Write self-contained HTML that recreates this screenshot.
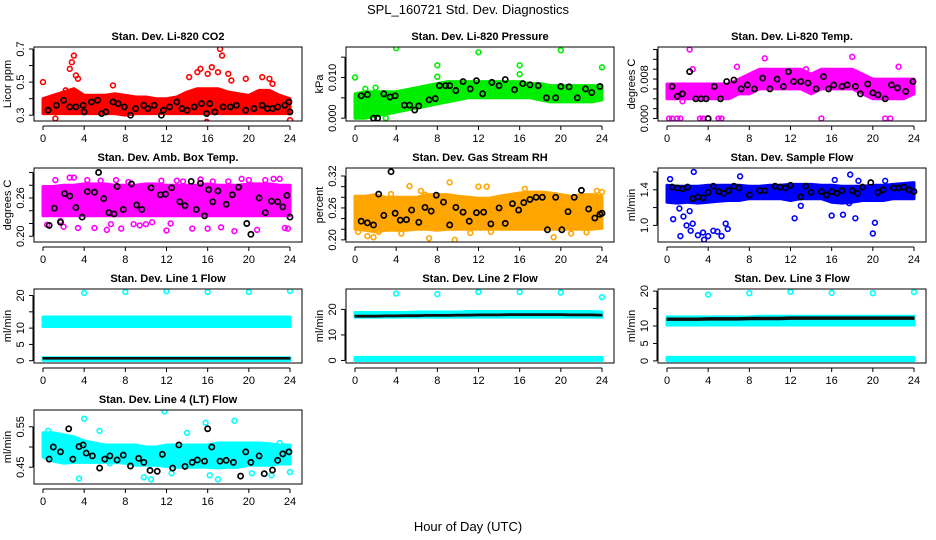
<!DOCTYPE html>
<html><head><meta charset="utf-8"><style>
html,body{margin:0;padding:0;background:#fff;}
svg{display:block;font-family:"Liberation Sans",Arial,sans-serif;}
</style></head><body>
<svg id="chart" width="936" height="540" viewBox="0 0 936 540">
<text x="468" y="14" text-anchor="middle" font-size="13">SPL_160721  Std. Dev. Diagnostics</text>
<text x="468" y="531" text-anchor="middle" font-size="13">Hour of Day (UTC)</text>
</svg>
<script>
const hours = [0,1,2,3,4,5,6,7,8,9,10,11,12,13,14,15,16,17,18,19,20,21,22,23,24];
const xTicks = [0,4,8,12,16,20,24];

const co2Lo = [0.31,0.31,0.31,0.31,0.31,0.31,0.31,0.31,0.30,0.31,0.31,0.31,0.31,0.31,0.31,0.31,0.31,0.31,0.31,0.31,0.31,0.31,0.31,0.31,0.31];
const co2Hi = [0.40,0.42,0.44,0.46,0.42,0.42,0.42,0.43,0.42,0.41,0.41,0.40,0.40,0.41,0.44,0.46,0.46,0.46,0.44,0.43,0.42,0.45,0.45,0.42,0.40];
const co2OutX = [0,2.2,2.6,2.8,3,3.2,3.4,14.2,15,15.3,16,16.4,17.2,17.4,17,18,18.3,19.7,21.3,22,22.3,15.9,24,1.2,0.3,6.8];
const co2OutY = [0.50,0.45,0.58,0.62,0.66,0.54,0.52,0.53,0.56,0.58,0.55,0.59,0.70,0.66,0.56,0.55,0.51,0.52,0.53,0.52,0.49,0.26,0.27,0.28,0.32,0.48];
const co2BlkX = [0.5,1.3,2,2.6,3.2,3.9,4,4.7,5.3,5.7,6.1,6.8,7.3,7.9,8.5,9,9.8,10.2,10.8,11.5,11.7,12.3,13,13.5,14,14.7,15.4,15.9,16.2,16.7,17.5,18.2,18.8,19.7,20.5,21.3,21.8,22.3,22.8,23.5,23.9,24];
const co2BlkY = [0.33,0.36,0.39,0.35,0.35,0.36,0.32,0.38,0.39,0.31,0.32,0.38,0.37,0.35,0.30,0.34,0.36,0.34,0.36,0.30,0.33,0.35,0.38,0.34,0.33,0.35,0.37,0.31,0.37,0.32,0.35,0.35,0.36,0.33,0.34,0.36,0.34,0.34,0.35,0.36,0.38,0.32];

const presLo = [0.0000,0.0000,0.0005,0.0010,0.0015,0.0020,0.0025,0.0030,0.0035,0.0040,0.0045,0.0050,0.0050,0.0050,0.0050,0.0050,0.0050,0.0050,0.0045,0.0040,0.0040,0.0040,0.0040,0.0040,0.0045];
const presHi = [0.0060,0.0065,0.0065,0.0065,0.0065,0.0070,0.0075,0.0080,0.0085,0.0090,0.0090,0.0090,0.0090,0.0090,0.0090,0.0090,0.0090,0.0085,0.0085,0.0080,0.0080,0.0080,0.0080,0.0080,0.0080];
const presOutX = [4,12,20,8,0,16,24,8,16,2,1,3];
const presOutY = [0.0172,0.0162,0.0167,0.0130,0.0100,0.0130,0.0125,0.0102,0.0108,0.0075,0.0072,0.0000];
const presBlkX = [0.6,1.2,1.8,2.2,2.8,3.4,3.9,4.8,5.3,5.8,6.2,7.2,7.8,8.2,8.8,9.2,9.8,10.5,11.2,11.8,12.4,13.3,14,14.6,15.5,16.3,17,17.8,18.6,19.5,20,20.8,21.6,22.4,23,23.8];
const presBlkY = [0.0055,0.0058,0.0000,0.0000,0.0060,0.0052,0.0055,0.0032,0.0032,0.0020,0.0030,0.0045,0.0048,0.0080,0.0080,0.0080,0.0068,0.0090,0.0072,0.0092,0.0060,0.0088,0.0080,0.0095,0.0070,0.0085,0.0082,0.0080,0.0050,0.0050,0.0078,0.0077,0.0050,0.0072,0.0063,0.0078];

const tempLo = [0.004,0.004,0.004,0.004,0.004,0.004,0.004,0.005,0.005,0.006,0.006,0.006,0.006,0.006,0.005,0.006,0.006,0.006,0.006,0.005,0.004,0.004,0.004,0.004,0.005];
const tempHi = [0.007,0.007,0.007,0.007,0.007,0.007,0.007,0.008,0.009,0.010,0.010,0.010,0.010,0.010,0.009,0.010,0.010,0.010,0.010,0.009,0.008,0.008,0.008,0.008,0.008];
const tempOutX = [0.2,0.5,1,1.3,3.2,3.5,4,5,5.3,15,21.2,21.7,2.2,9.5,18,2.5,13.5,1.5,6.8,22.5];
const tempOutY = [0,0,0,0,0,0,0,0,0,0,0,0,0.014,0.0122,0.0125,0.010,0.010,0.0035,0.0105,0.0105];
const tempBlkX = [0.5,1,1.5,2.2,2.8,3.3,3.8,4,4.6,5.2,5.8,6.5,7.2,7.8,8.5,9.3,10,10.7,11.3,11.8,12.3,13,13.7,14.5,15.2,15.7,16.2,17,17.5,18.3,18.8,19.5,20,20.5,21.2,21.8,22.4,23.2,23.9];
const tempBlkY = [0.0065,0.0045,0.005,0.0095,0.004,0.004,0.004,0,0.0065,0.004,0.0075,0.0078,0.006,0.0068,0.006,0.0082,0.006,0.008,0.0065,0.0095,0.0075,0.0075,0.0072,0.006,0.0085,0.006,0.0068,0.0065,0.0068,0.0065,0.005,0.007,0.0052,0.0048,0.004,0.0068,0.0062,0.0055,0.0075];

const ambLo = [0.232,0.232,0.232,0.232,0.232,0.232,0.232,0.232,0.232,0.232,0.232,0.232,0.232,0.232,0.232,0.232,0.232,0.232,0.232,0.232,0.232,0.232,0.232,0.232,0.232];
const ambHi = [0.278,0.278,0.280,0.280,0.282,0.282,0.282,0.280,0.280,0.280,0.282,0.282,0.280,0.280,0.280,0.280,0.282,0.280,0.280,0.280,0.282,0.282,0.282,0.280,0.280];
const ambOutX = [0.4,1.2,2,2.6,3,3.4,4.3,5,5.6,6.2,6.6,7.1,7.6,8.3,8.8,9.4,10,11.5,12,13,13.6,14.5,15.3,16,16.5,17.3,18,18.6,19.3,20,20.8,21.6,22.4,23,23.5,23.8,1.7,10.6,12.4];
const ambOutY = [0.218,0.288,0.215,0.292,0.292,0.213,0.288,0.213,0.287,0.210,0.219,0.288,0.212,0.285,0.219,0.217,0.219,0.287,0.209,0.287,0.286,0.212,0.289,0.212,0.286,0.214,0.286,0.208,0.290,0.288,0.210,0.288,0.290,0.290,0.213,0.212,0.224,0.222,0.220];
const ambBlkX = [0.6,1.1,1.7,2.1,2.6,3.2,3.8,4.3,5,5.4,5.9,6.4,6.9,7.2,7.8,8.6,9.1,9.6,10.5,11.4,11.9,12.5,13.3,13.8,14.4,14.9,15.3,15.7,16.1,16.5,17,17.8,18.4,19,19.8,20.2,21,21.6,22.2,22.8,23.3,23.7,24];
const ambBlkY = [0.217,0.244,0.222,0.267,0.263,0.245,0.230,0.270,0.269,0.300,0.259,0.237,0.235,0.278,0.242,0.282,0.249,0.242,0.276,0.265,0.266,0.276,0.254,0.248,0.286,0.242,0.283,0.232,0.273,0.254,0.271,0.250,0.265,0.277,0.220,0.203,0.260,0.237,0.255,0.254,0.246,0.264,0.230];

const rhLo = [0.220,0.218,0.215,0.218,0.218,0.218,0.220,0.220,0.218,0.220,0.220,0.220,0.220,0.220,0.220,0.220,0.220,0.220,0.220,0.220,0.220,0.220,0.220,0.220,0.222];
const rhHi = [0.282,0.282,0.285,0.280,0.280,0.280,0.280,0.285,0.285,0.285,0.282,0.280,0.278,0.278,0.282,0.285,0.288,0.290,0.290,0.288,0.285,0.282,0.285,0.285,0.282];
const rhOutX = [0.3,1.2,1.8,2.3,3.5,4.5,5.3,6.4,7.2,9.2,9.7,11.2,12,12.8,13.2,16.5,18,19.3,21,22.5,23.5,24,3,6.8];
const rhOutY = [0.215,0.207,0.205,0.215,0.286,0.212,0.301,0.292,0.203,0.308,0.200,0.213,0.300,0.300,0.215,0.296,0.286,0.205,0.212,0.214,0.292,0.290,0.275,0.285];
const rhBlkX = [0.6,1.2,1.8,2.3,2.8,3.5,3.9,4.4,5,5.5,6.2,6.8,7.4,7.9,8.6,9.2,9.8,10.5,11.1,11.8,12.5,13.2,14,14.6,15.3,15.9,16.4,17,17.6,18.2,18.7,19.5,20.1,20.7,21.3,22,22.7,23.3,23.8,24];
const rhBlkY = [0.235,0.232,0.228,0.286,0.246,0.328,0.250,0.237,0.238,0.256,0.233,0.261,0.254,0.284,0.271,0.228,0.261,0.252,0.235,0.251,0.252,0.230,0.260,0.231,0.268,0.256,0.270,0.276,0.280,0.280,0.219,0.280,0.219,0.253,0.280,0.293,0.258,0.241,0.248,0.250];

const flowLo = [1.26,1.25,1.26,1.25,1.26,1.27,1.28,1.28,1.30,1.30,1.30,1.30,1.28,1.30,1.30,1.30,1.26,1.25,1.26,1.28,1.28,1.28,1.30,1.30,1.30];
const flowHi = [1.45,1.44,1.44,1.44,1.45,1.45,1.45,1.45,1.44,1.44,1.45,1.45,1.46,1.46,1.46,1.45,1.45,1.44,1.44,1.44,1.45,1.45,1.46,1.47,1.48];
const flowOutX = [0.3,0.6,1.3,1.6,1.9,2.3,2.6,3,3.5,4,4.5,4.9,5.3,5.7,5.9,2.5,3.6,12.4,13,16,17.1,17.8,18.3,20,20.2,17.7,18.6,16.3,21.2,7.1,1.2,2.2];
const flowOutY = [1.52,1.07,0.88,1.10,1.00,0.94,1.60,0.89,0.92,0.88,0.94,0.93,0.88,1.02,0.96,1.02,0.84,1.08,1.22,1.11,1.12,1.57,1.08,0.91,1.03,1.25,1.50,1.51,1.50,1.55,1.19,1.16];
const flowBlkX = [0.5,1,1.5,2,2.5,3,3.5,4,4.5,5,5.5,6,6.5,7,8,9,9.5,10.5,11,11.5,12,13,13.5,14,15,15.5,16,16.5,17,18,18.5,19,19.8,20.5,21,22,22.5,23,23.5,24];
const flowBlkY = [1.43,1.42,1.41,1.43,1.30,1.32,1.31,1.37,1.44,1.38,1.36,1.39,1.44,1.42,1.34,1.39,1.39,1.44,1.43,1.42,1.45,1.32,1.44,1.37,1.38,1.34,1.38,1.36,1.39,1.39,1.36,1.43,1.48,1.37,1.40,1.42,1.42,1.43,1.40,1.38];

const l1HiLo = [12.2,12.2,12.2,12.2,12.2,12.2,12.2,12.2,12.2,12.2,12.2,12.2,12.2,12.2,12.2,12.2,12.2,12.2,12.2,12.2,12.2,12.2,12.2,12.2,12.2];
const l1HiHi = [13.4,13.4,13.4,13.4,13.4,13.4,13.4,13.4,13.4,13.4,13.4,13.4,13.4,13.4,13.4,13.4,13.4,13.4,13.4,13.4,13.4,13.4,13.4,13.4,13.4];
const l1MidLo = [10.5,10.5,10.5,10.5,10.5,10.5,10.5,10.5,10.5,10.5,10.5,10.5,10.5,10.5,10.5,10.5,10.5,10.5,10.5,10.5,10.5,10.5,10.5,10.5,10.5];
const l1MidHi = [11.5,11.5,11.5,11.5,11.5,11.5,11.5,11.5,11.5,11.5,11.5,11.5,11.5,11.5,11.5,11.5,11.5,11.5,11.5,11.5,11.5,11.5,11.5,11.5,11.5];
const l1LowLo = [0.1,0.1,0.1,0.1,0.1,0.1,0.1,0.1,0.1,0.1,0.1,0.1,0.1,0.1,0.1,0.1,0.1,0.1,0.1,0.1,0.1,0.1,0.1,0.1,0.1];
const l1LowHi = [0.9,0.9,0.9,0.9,0.9,0.9,0.9,0.9,0.9,0.9,0.9,0.9,0.9,0.9,0.9,0.9,0.9,0.9,0.9,0.9,0.9,0.9,0.9,0.9,0.9];
const l1OutX = [4,8,12,16,20,24];
const l1OutY = [20.8,21.1,21.3,21.1,21.1,21.4];
const l1BlkLo = [0.5,0.5,0.5,0.5,0.5,0.5,0.5,0.5,0.5,0.5,0.5,0.5,0.5,0.5,0.5,0.5,0.5,0.5,0.5,0.5,0.5,0.5,0.5,0.5,0.5];
const l1BlkHi = [1.0,1.0,1.0,1.0,1.0,1.0,1.0,1.0,1.0,1.0,1.0,1.0,1.0,1.0,1.0,1.0,1.0,1.0,1.0,1.0,1.0,1.0,1.0,1.0,1.0];

const l2BandLo = [17.0,17.0,17.0,17.0,17.0,17.0,17.0,17.0,17.0,17.0,17.0,17.0,17.0,17.0,17.0,17.0,17.0,17.0,17.0,17.0,17.0,17.0,17.0,17.0,17.0];
const l2BandHi = [18.8,18.8,18.8,18.8,18.8,18.8,19.0,19.0,19.0,19.0,19.0,19.2,19.2,19.2,19.2,19.2,19.2,19.2,19.2,19.2,19.2,19.2,19.2,19.2,19.0];
const l2LowLo = [0.0,0.0,0.0,0.0,0.0,0.0,0.0,0.0,0.0,0.0,0.0,0.0,0.0,0.0,0.0,0.0,0.0,0.0,0.0,0.0,0.0,0.0,0.0,0.0,0.0];
const l2LowHi = [1.2,1.2,1.2,1.2,1.2,1.2,1.2,1.2,1.2,1.2,1.2,1.2,1.2,1.2,1.2,1.2,1.2,1.2,1.2,1.2,1.2,1.2,1.2,1.2,1.2];
const l2BlkLo = [17.0,17.0,17.0,17.1,17.1,17.2,17.2,17.3,17.3,17.3,17.4,17.4,17.5,17.5,17.5,17.6,17.6,17.6,17.6,17.6,17.6,17.5,17.5,17.5,17.4];
const l2BlkHi = [17.7,17.7,17.7,17.8,17.8,17.9,17.9,18.0,18.0,18.0,18.1,18.1,18.2,18.2,18.2,18.3,18.3,18.3,18.3,18.3,18.3,18.2,18.2,18.2,18.1];
const l2OutX = [4,8,12,16,20,24];
const l2OutY = [26.2,26.0,26.8,26.8,26.6,24.8];

const l3BandLo = [10.3,10.3,10.3,10.3,10.3,10.3,10.3,10.3,10.3,10.3,10.3,10.3,10.3,10.3,10.3,10.3,10.3,10.3,10.3,10.3,10.3,10.3,10.3,10.3,10.3];
const l3BandHi = [12.6,12.6,12.6,12.6,12.6,12.6,12.6,12.6,12.6,12.8,12.8,12.8,12.8,12.8,12.8,12.8,12.8,12.8,12.8,12.8,12.8,12.8,12.8,12.8,12.8];
const l3LowLo = [0.1,0.1,0.1,0.1,0.1,0.1,0.1,0.1,0.1,0.1,0.1,0.1,0.1,0.1,0.1,0.1,0.1,0.1,0.1,0.1,0.1,0.1,0.1,0.1,0.1];
const l3LowHi = [1.0,1.0,1.0,1.0,1.0,1.0,1.0,1.0,1.0,1.0,1.0,1.0,1.0,1.0,1.0,1.0,1.0,1.0,1.0,1.0,1.0,1.0,1.0,1.0,1.0];
const l3BlkLo = [11.6,11.6,11.6,11.6,11.7,11.7,11.7,11.7,11.8,11.8,11.8,11.8,11.9,11.9,11.9,11.9,11.9,11.9,11.9,11.9,11.9,11.9,11.9,11.9,11.9];
const l3BlkHi = [12.3,12.3,12.3,12.3,12.4,12.4,12.4,12.4,12.5,12.5,12.5,12.5,12.6,12.6,12.6,12.6,12.6,12.6,12.6,12.6,12.6,12.6,12.6,12.6,12.6];
const l3OutX = [4,8,12,16,20,24];
const l3OutY = [19.0,19.4,19.8,19.5,19.4,19.7];

const l4Lo = [0.475,0.465,0.460,0.462,0.462,0.462,0.462,0.462,0.460,0.455,0.455,0.455,0.452,0.450,0.450,0.450,0.450,0.448,0.450,0.450,0.455,0.455,0.455,0.458,0.458];
const l4Hi = [0.535,0.535,0.530,0.525,0.515,0.510,0.505,0.505,0.505,0.505,0.500,0.500,0.505,0.505,0.505,0.505,0.505,0.510,0.510,0.510,0.510,0.510,0.508,0.505,0.505];
const l4OutX = [4,11.8,3.5,6.5,9.8,10.5,15.8,17,18.6,24,14,23,0.5,5.5,12.5,16.2,20.3,22.2];
const l4OutY = [0.570,0.588,0.422,0.460,0.425,0.420,0.560,0.420,0.565,0.438,0.535,0.510,0.540,0.540,0.435,0.430,0.435,0.430];
const l4BlkX = [0.6,1,1.7,2.5,2.9,3.5,3.9,4.2,4.8,5.5,6,6.5,7.2,7.8,8.5,9.3,9.8,10.4,11.1,11.6,12.6,13.2,13.8,14.5,15,15.7,16,16.4,17.2,17.8,18.5,19.2,19.7,20.2,21,21.5,22.3,22.8,23.3,23.9];
const l4BlkY = [0.470,0.500,0.488,0.545,0.470,0.501,0.505,0.485,0.478,0.448,0.470,0.478,0.468,0.480,0.453,0.472,0.462,0.442,0.440,0.482,0.448,0.505,0.452,0.462,0.468,0.465,0.545,0.500,0.465,0.467,0.462,0.428,0.488,0.462,0.478,0.434,0.443,0.467,0.483,0.488];

const NS = "http://www.w3.org/2000/svg";
const svg = document.getElementById('chart');
function mk(tag, attrs, parent) {
  const e = document.createElementNS(NS, tag);
  for (const k in attrs) e.setAttribute(k, attrs[k]);
  (parent || svg).appendChild(e);
  return e;
}

const panels = [
  {key:'co2', title:'Stan. Dev. Li-820 CO2', ylab:'Licor ppm', col:0, row:0, ymin:0.265, ymax:0.712, ticks:[0.3,0.4,0.5,0.6,0.7], labels:['0.3','','0.5','','0.7'], color:'#ff0000',
   bands:[[co2Lo,co2Hi]], outX:co2OutX, outY:co2OutY, blkX:co2BlkX, blkY:co2BlkY, blkBands:[]},
  {key:'pressure', title:'Stan. Dev. Li-820 Pressure', ylab:'kPa', col:1, row:0, ymin:-0.0007, ymax:0.0175, ticks:[0,0.005,0.010,0.015], labels:['0.000','','0.010',''], color:'#00ee00',
   bands:[[presLo,presHi]], outX:presOutX, outY:presOutY, blkX:presBlkX, blkY:presBlkY, blkBands:[]},
  {key:'temp', title:'Stan. Dev. Li-820 Temp.', ylab:'degrees C', col:2, row:0, ymin:-0.0005, ymax:0.0145, ticks:[0,0.002,0.004,0.006,0.008,0.010,0.012,0.014], labels:['0.000','','','','0.008','','',''], color:'#ff00ff',
   bands:[[tempLo,tempHi]], outX:tempOutX, outY:tempOutY, blkX:tempBlkX, blkY:tempBlkY, blkBands:[]},
  {key:'amb', title:'Stan. Dev. Amb. Box Temp.', ylab:'degrees C', col:0, row:1, ymin:0.191, ymax:0.307, ticks:[0.20,0.22,0.24,0.26,0.28,0.30], labels:['0.20','','','0.26','',''], color:'#ff00ff',
   bands:[[ambLo,ambHi]], outX:ambOutX, outY:ambOutY, blkX:ambBlkX, blkY:ambBlkY, blkBands:[]},
  {key:'rh', title:'Stan. Dev. Gas Stream RH', ylab:'percent', col:1, row:1, ymin:0.196, ymax:0.335, ticks:[0.20,0.22,0.24,0.26,0.28,0.30,0.32], labels:['0.20','','','0.26','','','0.32'], color:'#ffa500',
   bands:[[rhLo,rhHi]], outX:rhOutX, outY:rhOutY, blkX:rhBlkX, blkY:rhBlkY, blkBands:[]},
  {key:'flow', title:'Stan. Dev. Sample Flow', ylab:'ml/min', col:2, row:1, ymin:0.814, ymax:1.644, ticks:[1.0,1.2,1.4,1.6], labels:['1.0','','1.4',''], color:'#0000ff',
   bands:[[flowLo,flowHi]], outX:flowOutX, outY:flowOutY, blkX:flowBlkX, blkY:flowBlkY, blkBands:[]},
  {key:'line1', title:'Stan. Dev. Line 1 Flow', ylab:'ml/min', col:0, row:2, ymin:-0.7, ymax:22.0, ticks:[0,5,10,15,20], labels:['0','5','10','','20'], color:'#00ffff',
   bands:[[l1HiLo,l1HiHi],[l1MidLo,l1MidHi],[l1LowLo,l1LowHi]], outX:l1OutX, outY:l1OutY, blkX:[], blkY:[], blkBands:[[l1BlkLo,l1BlkHi]]},
  {key:'line2', title:'Stan. Dev. Line 2 Flow', ylab:'ml/min', col:1, row:2, ymin:-1.0, ymax:28.0, ticks:[0,10,20], labels:['0','10','20'], color:'#00ffff',
   bands:[[l2BandLo,l2BandHi],[l2LowLo,l2LowHi]], outX:l2OutX, outY:l2OutY, blkX:[], blkY:[], blkBands:[[l2BlkLo,l2BlkHi]]},
  {key:'line3', title:'Stan. Dev. Line 3 Flow', ylab:'ml/min', col:2, row:2, ymin:-0.6, ymax:20.6, ticks:[0,5,10,15,20], labels:['0','5','10','','20'], color:'#00ffff',
   bands:[[l3BandLo,l3BandHi],[l3LowLo,l3LowHi]], outX:l3OutX, outY:l3OutY, blkX:[], blkY:[], blkBands:[[l3BlkLo,l3BlkHi]]},
  {key:'line4', title:'Stan. Dev. Line 4 (LT) Flow', ylab:'ml/min', col:0, row:3, ymin:0.4085, ymax:0.5915, ticks:[0.45,0.50,0.55], labels:['0.45','','0.55'], color:'#00ffff',
   bands:[[l4Lo,l4Hi]], outX:l4OutX, outY:l4OutY, blkX:l4BlkX, blkY:l4BlkY, blkBands:[]}
];

panels.forEach(p => {
  const L = 34 + 312*p.col, R = 302 + 312*p.col;
  const T = 47 + 121*p.row, B = 121 + 121*p.row;
  const x0 = 43 + 312*p.col, x1 = 290 + 312*p.col;
  const xs = h => x0 + (h/24)*(x1-x0);
  const ys = v => B - (v - p.ymin)/(p.ymax - p.ymin)*(B - T);
  const g = mk('g', {});
  
  
  const clipId = 'clip-' + p.key;
  const cp = mk('clipPath', {id: clipId}, g);
  mk('rect', {x:L, y:T, width:R-L, height:B-T}, cp);
  const plot = mk('g', {'clip-path':'url(#'+clipId+')'}, g);

  const bandPath = (lo, hi) => {
    let d = '';
    hours.forEach((h,i) => { d += (i ? 'L' : 'M') + xs(h).toFixed(1) + ' ' + ys(hi[i]).toFixed(1); });
    for (let i = hours.length-1; i >= 0; i--) d += 'L' + xs(hours[i]).toFixed(1) + ' ' + ys(lo[i]).toFixed(1);
    return d + 'Z';
  };
  p.bands.forEach((b, bi) => {
    const el = mk('path', {d: bandPath(b[0], b[1]), fill: p.color, stroke: p.color, 'stroke-width': 3, 'stroke-linejoin':'round'}, plot);
    
    
  });
  p.outX.forEach((h, i) => {
    const c = mk('circle', {cx: xs(h), cy: ys(p.outY[i]), r: 2.4, fill: 'none', stroke: p.color, 'stroke-width': 1.6}, plot);
    
    
  });
  p.blkBands.forEach(b => {
    const el = mk('path', {d: bandPath(b[0], b[1]), fill: '#111', stroke: '#111', 'stroke-width': 1}, plot);
    
    
  });
  p.blkX.forEach((h, i) => {
    const c = mk('circle', {cx: xs(h), cy: ys(p.blkY[i]), r: 2.6, fill: 'none', stroke: '#000', 'stroke-width': 1.7}, plot);
    
    
  });

  const box = mk('rect', {x:L, y:T, width:R-L, height:B-T, fill:'none', stroke:'#000', 'stroke-width':1}, g);
  
  

  const tt = mk('text', {x:(L+R)/2, y:T-7, 'text-anchor':'middle', 'font-size':11, 'font-weight':'bold'}, g);
  tt.textContent = p.title;
  
  

  // x axis
  mk('line', {x1:xs(0), x2:xs(24), y1:B+5, y2:B+5, stroke:'#000'}, g);
  xTicks.forEach(t => {
    mk('line', {x1:xs(t), x2:xs(t), y1:B+5, y2:B+9, stroke:'#000'}, g);
    const tx = mk('text', {x:xs(t), y:B+21, 'text-anchor':'middle', 'font-size':11}, g);
    tx.textContent = t;
    
    
  });
  // y axis
  const ax = L - 1;
  mk('line', {x1:ax, x2:ax, y1:ys(p.ticks[0]), y2:ys(p.ticks[p.ticks.length-1]), stroke:'#000'}, g);
  p.ticks.forEach((t, i) => {
    mk('line', {x1:ax-4, x2:ax, y1:ys(t), y2:ys(t), stroke:'#000'}, g);
    if (p.labels[i]) {
      const yl = mk('text', {x:0, y:0, 'text-anchor':'middle', 'font-size':11, transform:'translate('+(L-10)+','+ys(t)+') rotate(-90)'}, g);
      yl.textContent = p.labels[i];
      
      
    }
  });
  const yt = mk('text', {x:0, y:0, 'text-anchor':'middle', 'font-size':11, transform:'translate('+(L-23)+','+((T+B)/2)+') rotate(-90)'}, g);
  yt.textContent = p.ylab;
  
  
});
</script>
</body></html>
